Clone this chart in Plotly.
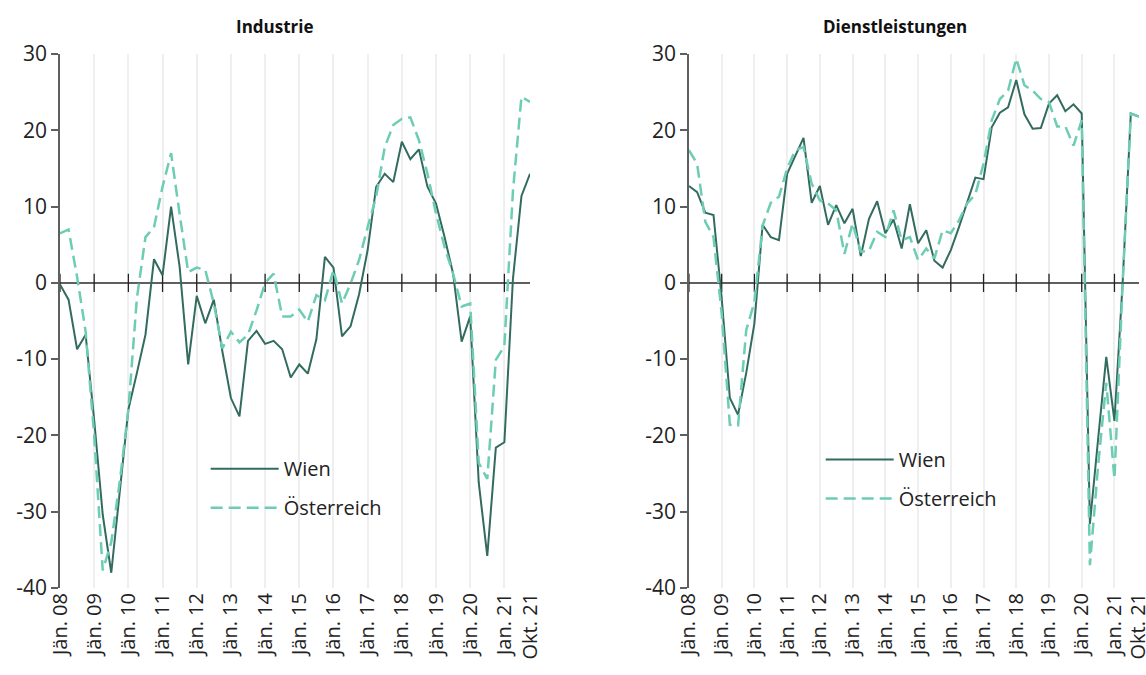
import plotly.graph_objects as go
from plotly.subplots import make_subplots

# quarterly values, Jän. 08 .. Okt. 21 (56 quarters)
industrie_wien = [
    -0.2, -2.2, -8.7, -6.8, -18.0, -30.4, -38.0, -27.5, -16.6, -11.8,
    -6.8, 3.1, 1.0, 10.0, 2.1, -10.7, -1.7, -5.3, -2.2, -9.0,
    -15.1, -17.5, -7.6, -6.3, -8.0, -7.6, -8.7, -12.4, -10.7, -11.9,
    -7.4, 3.4, 2.0, -7.0, -5.7, -1.5, 4.3, 12.6, 14.3, 13.2,
    18.5, 16.2, 17.5, 12.6, 10.4, 6.0, 1.2, -7.7, -4.4, -26.2,
    -35.8, -21.6, -20.9, 0.5, 11.4, 14.3,
]
industrie_at = [
    6.5, 7.0, 0.8, -6.4, -20.0, -37.7, -34.0, -26.0, -16.6, -2.0,
    6.0, 7.3, 12.6, 17.0, 9.0, 1.4, 2.0, 1.7, -2.7, -8.6,
    -6.4, -7.8, -6.8, -3.6, 0.0, 1.2, -4.4, -4.4, -3.5, -5.1,
    -1.6, -2.3, 1.7, -2.7, -0.1, 3.0, 7.3, 11.3, 17.8, 20.7,
    21.5, 21.7, 18.7, 14.3, 9.1, 4.7, 1.2, -3.1, -2.7, -23.6,
    -25.7, -10.1, -8.3, 12.0, 24.4, 23.7,
]
dienst_wien = [
    12.7, 11.9, 9.2, 8.9, -2.0, -15.1, -17.3, -11.8, -5.3, 7.6,
    6.0, 5.6, 14.3, 16.7, 19.0, 10.5, 12.7, 7.6, 10.2, 7.8,
    9.7, 3.5, 8.4, 10.7, 6.5, 8.3, 4.5, 10.3, 5.2, 6.9,
    2.9, 2.0, 4.3, 7.3, 10.5, 13.8, 13.6, 20.4, 22.3, 23.0,
    26.6, 22.1, 20.2, 20.3, 23.5, 24.6, 22.5, 23.4, 22.2, -31.6,
    -20.5, -9.7, -18.1, 0.0, 22.2, 21.8,
]
dienst_at = [
    17.4, 15.6, 8.0, 6.0, -4.0, -18.6, -18.7, -6.2, -2.5, 7.5,
    10.5, 11.3, 15.0, 17.4, 17.8, 13.0, 10.8, 10.4, 9.5, 3.8,
    7.8, 4.1, 4.2, 6.7, 6.0, 9.5, 5.6, 6.0, 3.0, 4.5,
    3.2, 6.9, 6.5, 8.2, 10.4, 11.6, 15.6, 21.3, 24.1, 25.2,
    29.4, 25.9, 25.2, 24.1, 23.7, 20.5, 20.5, 18.0, 21.3, -37.0,
    -24.0, -13.1, -25.7, 0.0, 22.2, 21.8,
]

quarters = list(range(len(industrie_wien)))
tick_pos = [0, 4, 8, 12, 16, 20, 24, 28, 32, 36, 40, 44, 48, 52, 55]
tick_text = ["Jän. 08", "Jän. 09", "Jän. 10", "Jän. 11", "Jän. 12", "Jän. 13",
             "Jän. 14", "Jän. 15", "Jän. 16", "Jän. 17", "Jän. 18", "Jän. 19",
             "Jän. 20", "Jan. 21", "Okt. 21"]
year_ticks = tick_pos[:-1]
y_ticks = [-40, -30, -20, -10, 0, 10, 20, 30]

WIEN = "#336b5f"
AT = "#6dcdb4"
AXIS = "#5f5f5f"
FONT = "Open Sans"

fig = make_subplots(rows=1, cols=2)

panels = [(industrie_wien, industrie_at, "legend"), (dienst_wien, dienst_at, "legend2")]
for col, (wien, at, leg) in enumerate(panels, start=1):
    # tick marks sitting on the zero line
    fig.add_trace(go.Scatter(
        x=year_ticks, y=[0] * len(year_ticks),
        mode="markers",
        marker=dict(symbol="line-ns", size=13, line=dict(width=1.3, color="#222")),
        showlegend=False, hoverinfo="skip", cliponaxis=False,
    ), row=1, col=col)
    fig.add_trace(go.Scatter(
        x=quarters, y=wien, mode="lines", name="Wien",
        line=dict(color=WIEN, width=2),
        legend=leg, legendgroup=f"w{col}",
    ), row=1, col=col)
    fig.add_trace(go.Scatter(
        x=quarters, y=at, mode="lines", name="Österreich",
        line=dict(color=AT, width=2.5, dash="12px,6px"),
        legend=leg, legendgroup=f"a{col}",
    ), row=1, col=col)

xaxis_style = dict(
    range=[0, 55], tickmode="array", tickvals=tick_pos, ticktext=tick_text,
    tickangle=-90, showgrid=True, gridcolor="#efefef", gridwidth=2,
    showline=False, zeroline=False, ticks="", automargin=False,
    ticklabeloverflow="allow",
    tickfont=dict(size=20, color="#222"),
)
yaxis_style = dict(
    range=[-40, 30], tickmode="array", tickvals=y_ticks,
    ticktext=[str(v) for v in y_ticks],
    showgrid=False, showline=True, linecolor=AXIS, linewidth=1.5,
    ticks="outside", ticklen=7, tickcolor=AXIS, tickwidth=1.5,
    zeroline=True, zerolinecolor=AXIS, zerolinewidth=1.5, automargin=False,
    tickfont=dict(size=21, color="#222"),
)
fig.update_xaxes(**xaxis_style)
fig.update_yaxes(**yaxis_style)
fig.update_layout(
    xaxis=dict(domain=[0, 0.4356]),
    xaxis2=dict(domain=[0.5829, 1.0]),
)

legend_style = dict(
    font=dict(family=FONT, size=20, color="#222"),
    bgcolor="rgba(0,0,0,0)", tracegroupgap=10,
    xanchor="left", yanchor="top", itemwidth=68,
)
fig.update_layout(
    legend=dict(x=0.135, y=0.26, **legend_style),
    legend2=dict(x=0.705, y=0.277, **legend_style),
)

for x, text in [(0.199, "Industrie"), (0.774, "Dienstleistungen")]:
    fig.add_annotation(
        x=x, y=1.0506, xref="paper", yref="paper", showarrow=False,
        text=f"<b>{text}</b>", font=dict(family=FONT, size=17, color="#111"),
        xanchor="center", yanchor="middle",
    )

fig.update_layout(
    width=1146, height=675,
    margin=dict(l=60, r=7, t=54, b=87),
    plot_bgcolor="white", paper_bgcolor="white",
    font=dict(family=FONT, color="#222"),
)

fig.write_html("out.html", config={"displayModeBar": False},
               post_script="document.body.style.margin='0';")
